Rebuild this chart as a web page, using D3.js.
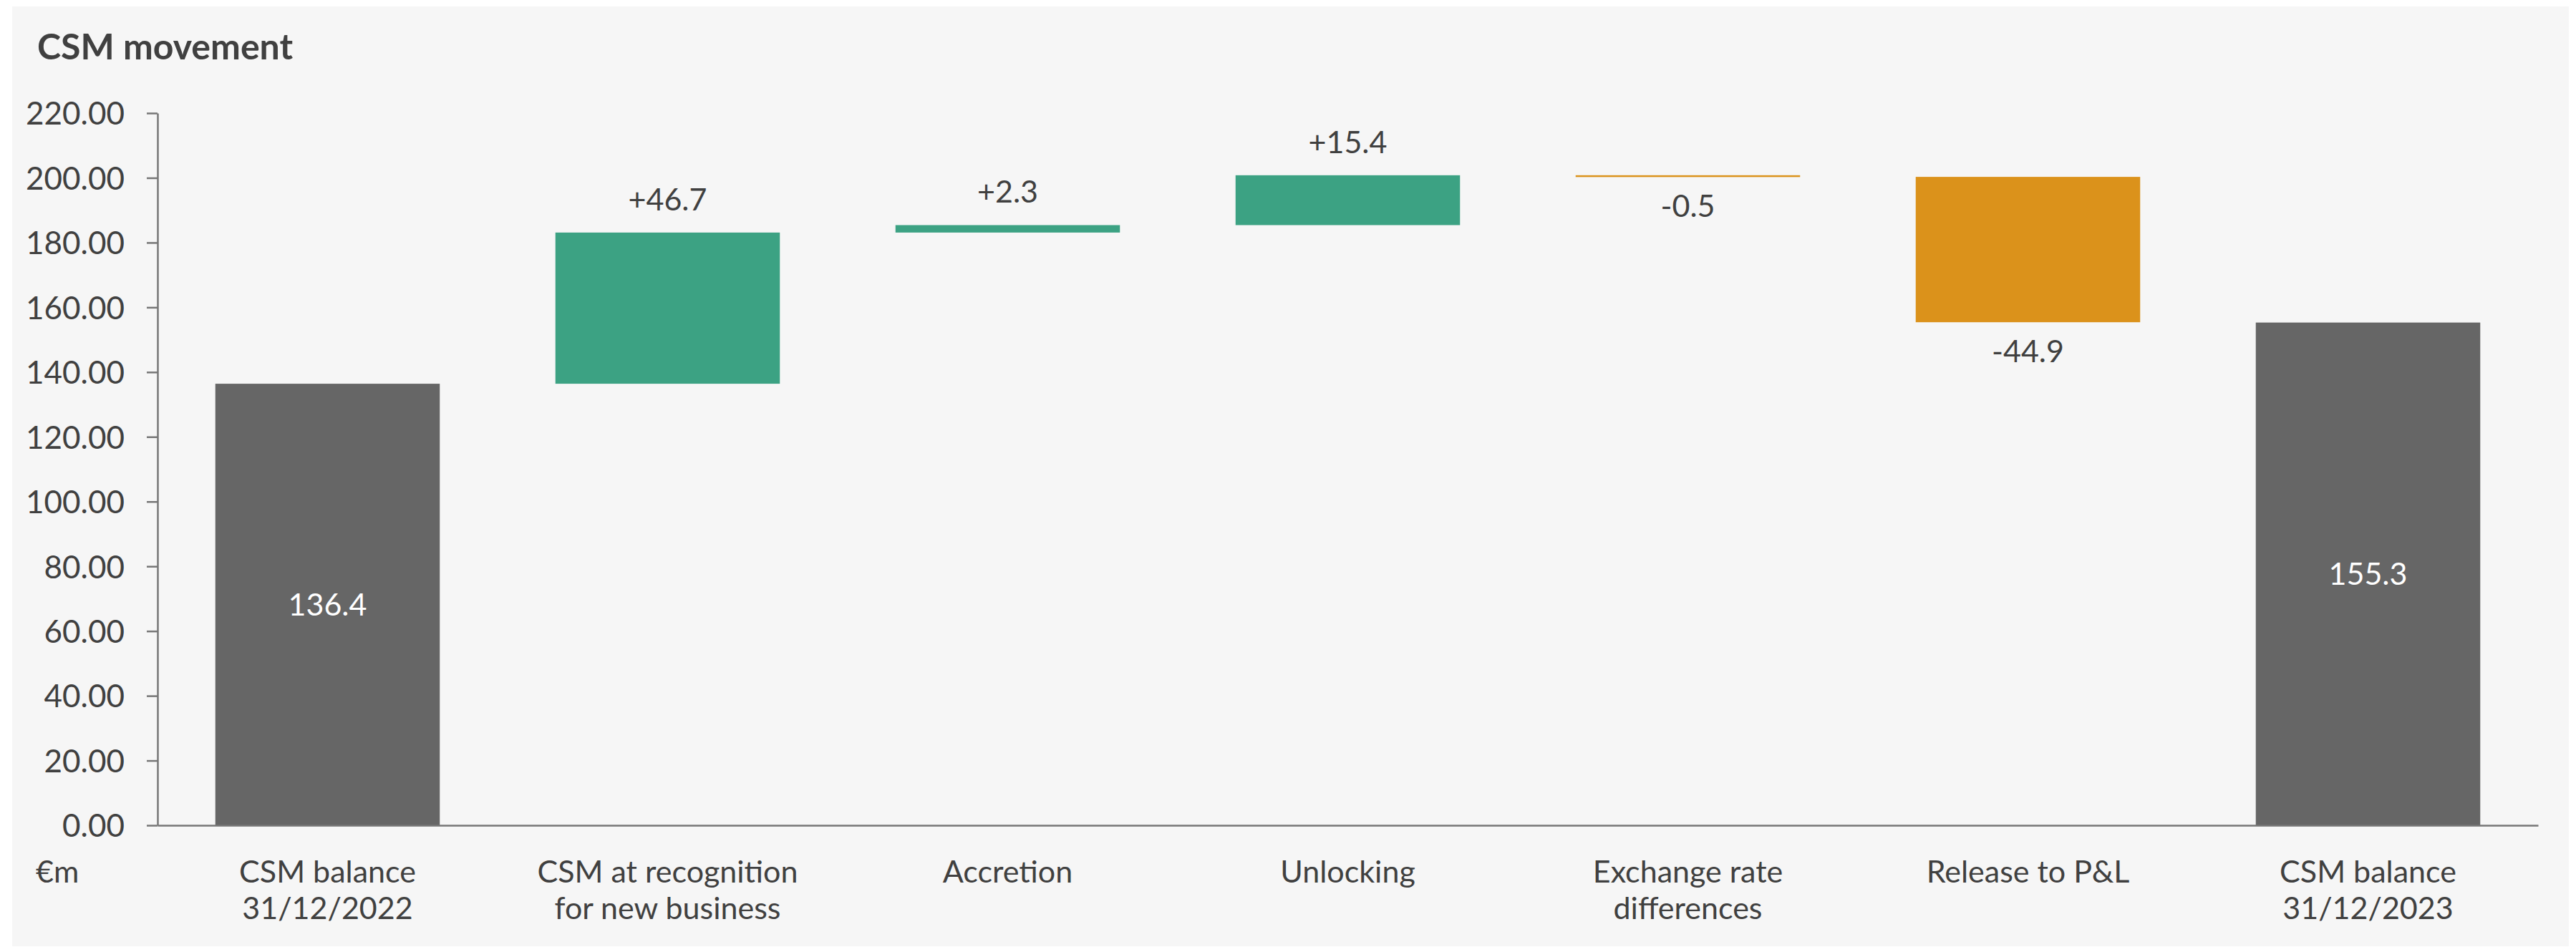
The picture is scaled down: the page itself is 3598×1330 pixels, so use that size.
<!DOCTYPE html>
<html>
<head>
<meta charset="utf-8">
<script src="https://cdn.jsdelivr.net/npm/d3@7"></script>
<style>
  body { margin: 0; background: #ffffff; }
  text { font-family: Lato, "Open Sans", sans-serif; fill: #404040; }
</style>
</head>
<body>
<svg width="3598" height="1330"></svg>
<script>
// chart data
const categories = [
  ['CSM balance', '31/12/2022'],
  ['CSM at recognition', 'for new business'],
  ['Accretion'],
  ['Unlocking'],
  ['Exchange rate', 'differences'],
  ['Release to P&L'],
  ['CSM balance', '31/12/2023']
];
const values = [136.4, 46.7, 2.3, 15.4, -0.5, -44.9, 155.3];
const kinds = ['total', 'delta', 'delta', 'delta', 'delta', 'delta', 'total'];
const yTicks = [0, 20, 40, 60, 80, 100, 120, 140, 160, 180, 200, 220];

const colors = { total: '#666666', up: '#3ca283', down: '#db921b' };

let svg = d3.select('svg');

// panel background
svg.append('rect')
   .attr('x', 17).attr('y', 9)
   .attr('width', 3571).attr('height', 1313)
   .attr('fill', '#f6f6f6');

svg.append('text')
   .attr('x', 52).attr('y', 83)
   .style('font-size', '50px')
   .style('font-weight', 'bold')
   .text('CSM movement');

let x = d3.scaleBand()
          .domain(d3.range(categories.length))
          .range([220, 3545])
          .paddingInner(0.34)
          .paddingOuter(0.17);

let y = d3.scaleLinear()
          .domain([0, 220])
          .range([1153, 158]);

// waterfall steps
let running = 0;
let steps = values.map((v, i) => {
  let s;
  if (kinds[i] === 'total') {
    s = { i: i, lo: 0, hi: v, v: v, kind: 'total' };
    running = v;
  } else {
    let start = running;
    running = start + v;
    s = { i: i, lo: Math.min(start, running), hi: Math.max(start, running), v: v, kind: v >= 0 ? 'up' : 'down' };
  }
  return s;
});

// y axis
let yAxis = svg.append('g')
   .attr('transform', 'translate(220,0)')
   .call(d3.axisLeft(y).tickValues(yTicks).tickSize(15).tickSizeOuter(0).tickPadding(31).tickFormat(d => d.toFixed(2)));
yAxis.select('.domain').attr('stroke', '#767676').attr('stroke-width', 2.5);
yAxis.selectAll('.tick line').attr('stroke', '#767676').attr('stroke-width', 2.5);
yAxis.selectAll('.tick text').style('font-size', '44px').attr('fill', '#404040').attr('dy', '0.36em');

// bars
svg.selectAll('rect.bar')
   .data(steps)
   .enter().append('rect')
   .attr('class', 'bar')
   .attr('x', d => x(d.i))
   .attr('width', x.bandwidth())
   .attr('y', d => y(d.hi))
   .attr('height', d => Math.max(y(d.lo) - y(d.hi), 2.5))
   .attr('fill', d => colors[d.kind]);

// x axis line
let xAxis = svg.append('g')
   .attr('transform', 'translate(0,' + y(0) + ')')
   .call(d3.axisBottom(x).tickSize(0).tickSizeOuter(0).tickFormat(''));
xAxis.select('.domain').attr('stroke', '#767676').attr('stroke-width', 2.5);

// value labels (plain hyphen for negatives, as in the source)
svg.selectAll('text.val')
   .data(steps)
   .enter().append('text')
   .attr('class', 'val')
   .attr('text-anchor', 'middle')
   .attr('x', d => x(d.i) + x.bandwidth() / 2)
   .attr('y', d => {
     if (d.kind === 'total') return (y(d.lo) + y(d.hi)) / 2 + 15;
     if (d.kind === 'up') return y(d.hi) - 31;
     return y(d.lo) + 56;
   })
   .style('font-size', '43px')
   .style('fill', d => d.kind === 'total' ? '#ffffff' : '#404040')
   .text(d => d.kind === 'total' ? d.v.toFixed(1) : (d.v > 0 ? '+' : '') + d.v.toFixed(1));

// category labels
let cat = svg.selectAll('text.cat')
   .data(categories)
   .enter().append('text')
   .attr('class', 'cat')
   .attr('text-anchor', 'middle')
   .attr('y', 1233)
   .style('font-size', '43px');
cat.each(function(lines, i) {
  d3.select(this).selectAll('tspan')
    .data(lines)
    .enter().append('tspan')
    .attr('x', x(i) + x.bandwidth() / 2)
    .attr('dy', (l, j) => j === 0 ? 0 : 51)
    .text(l => l);
});

svg.append('text')
   .attr('x', 50).attr('y', 1233)
   .style('font-size', '43px')
   .text('€m');
</script>
</body>
</html>
